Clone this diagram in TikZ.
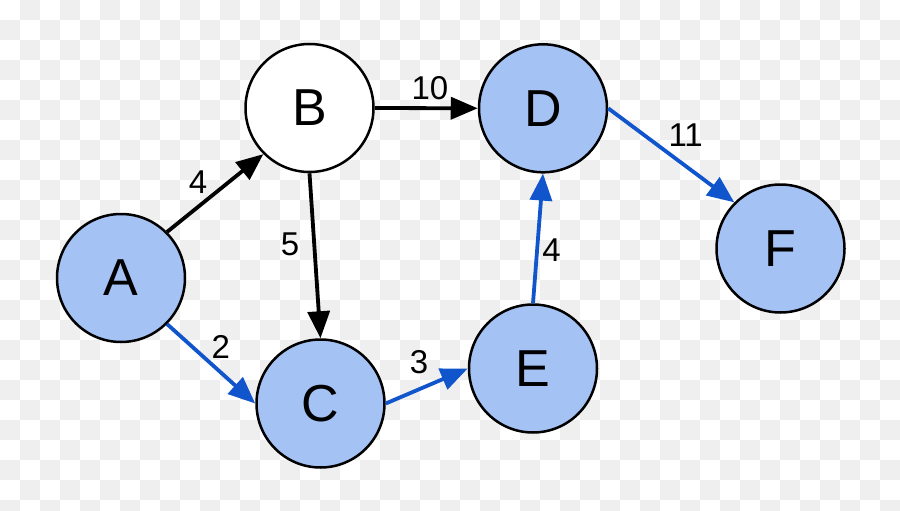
\documentclass[tikz,border=0pt]{standalone}
\usepackage{fontspec}
\setmainfont{Liberation Sans}
\usetikzlibrary{arrows.meta}
\definecolor{nodefill}{HTML}{A4C2F4}
\definecolor{pathblue}{HTML}{1155CC}
\definecolor{checkgrey}{HTML}{EFEFEF}
\tikzset{
  vertex/.style={circle, draw=black, line width=2.5pt, minimum size=128pt, inner sep=0pt, font=\fontsize{52}{52}\selectfont},
  visited/.style={vertex, fill=nodefill},
  plain/.style={vertex, fill=white},
  edge/.style={line width=3.8pt, -{Triangle[length=27pt,width=22pt]}},
  blackedge/.style={edge, draw=black},
  blueedge/.style={edge, draw=pathblue},
  weight/.style={inner sep=0pt, font=\fontsize{33}{33}\selectfont}
}
\begin{document}
\begin{tikzpicture}[x=1pt,y=-1pt]
\useasboundingbox (0,0) rectangle (900,511);
\fill[white] (0,0) rectangle (900,511);
\foreach \i in {0,...,44}{
  \foreach \j in {0,...,25}{
    \pgfmathparse{int(mod(\i+\j,2))}
    \ifnum\pgfmathresult=1
      \fill[checkgrey] (20*\i,20*\j) rectangle ++(20,20);
    \fi
  }
}
\node[visited] (A) at (121,278) {A};
\node[plain]   (B) at (309.5,108) {B};
\node[visited] (C) at (320.5,403.5) {C};
\node[visited] (D) at (543,108.3) {D};
\node[visited] (E) at (533,368.5) {E};
\node[visited] (F) at (780.5,248.5) {F};

\draw[blackedge] (A.north east) -- (B.south west);
\draw[blackedge] (B.south) -- (C.north);
\draw[blackedge] (B.east) -- (D.west);
\draw[blueedge] (A.south east) -- (C.west);
\draw[blueedge] (C.east) -- (E.west);
\draw[blueedge] (E.north) -- (D.south);
\draw[blueedge] (D.east) -- (F.north west);

\node[weight] (wAB) at (198,182) {4};
\node[weight] (wBC) at (290,244) {5};
\node[weight] (wBD) at (430,88) {10};
\node[weight] (wAC) at (220.7,346.7) {2};
\node[weight] (wCE) at (419,361.7) {3};
\node[weight] (wED) at (551.5,250) {4};
\node[weight] (wDF) at (685.7,135) {11};
\end{tikzpicture}
\end{document}
